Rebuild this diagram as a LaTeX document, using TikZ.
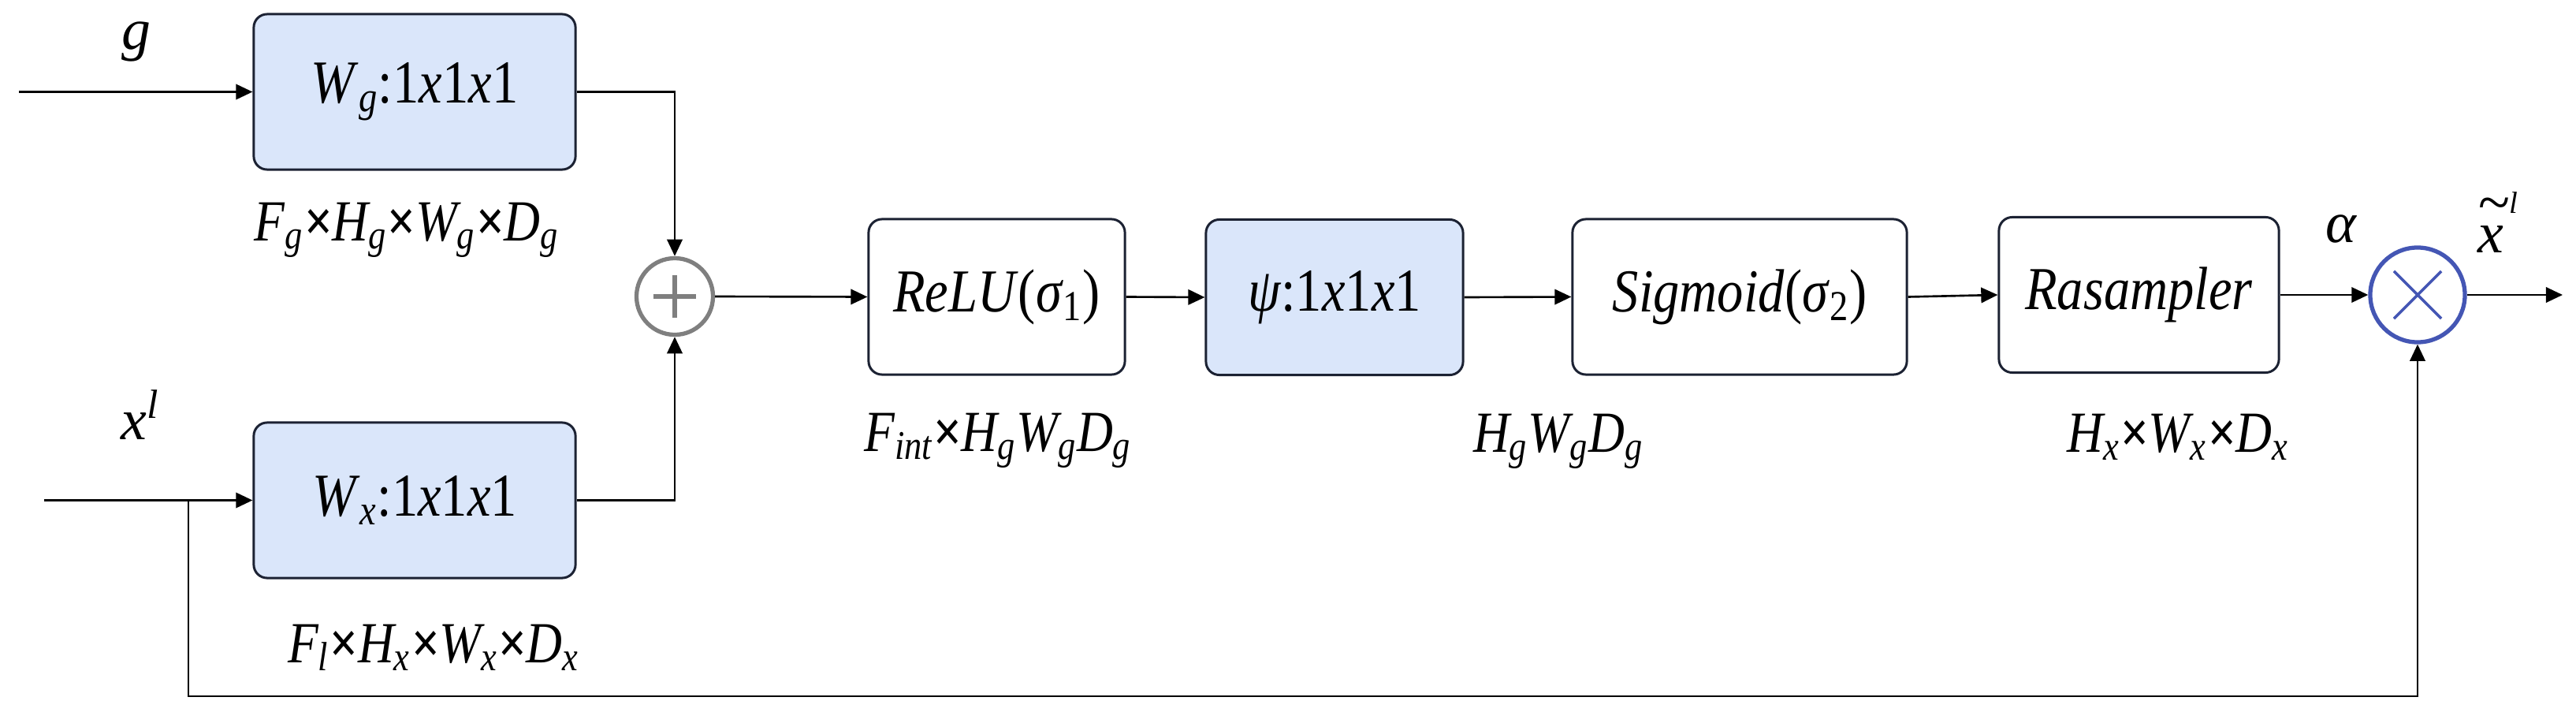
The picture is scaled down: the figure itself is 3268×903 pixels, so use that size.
\documentclass[tikz,border=0pt]{standalone}
\usepackage{fontspec}
\setmainfont{Liberation Serif}
\usepackage{graphicx}
\usetikzlibrary{arrows.meta}
\definecolor{boxfill}{HTML}{DAE6FA}
\definecolor{boxline}{HTML}{1C2233}
\definecolor{plusgray}{HTML}{7F7F7F}
\definecolor{multblue}{HTML}{4456B4}
\newcommand\Sb[1]{\textsubscript{#1}}
\newcommand\cz[1]{\scalebox{0.86}[1]{#1}}
\begin{document}
\begin{tikzpicture}[x=0.01cm,y=-0.01cm,
  blk/.style={draw=boxline, line width=0.85pt, rounded corners=0.17cm, minimum height=1.97cm, inner sep=0pt, font=\fontsize{22}{26}\selectfont},
  blu/.style={blk, fill=boxfill},
  lbl/.style={font=\fontsize{21}{25}\selectfont\itshape, inner sep=0pt, anchor=base},
  con/.style={line width=0.75pt, -{Triangle[length=6pt,width=5.5pt]}},
]
\useasboundingbox (0,0) rectangle (3268,903);

% blocks
\node[blu, minimum width=4.08cm] (wg) at (526,116.5) {\cz{\textit{W}\Sb{\textit{g}}:1\textit{x}1\textit{x}1}};
\node[blu, minimum width=4.08cm] (wx) at (526,634.5) {\cz{\textit{W}\Sb{\textit{x}}:1\textit{x}1\textit{x}1}};
\node[circle, draw=plusgray, line width=1.5pt, minimum size=0.97cm, inner sep=0pt] (plus) at (856,376) {};
\draw[plusgray, line width=1.6pt] ([xshift=-0.27cm]plus.center) -- ([xshift=0.27cm]plus.center);
\draw[plusgray, line width=1.6pt] ([yshift=-0.27cm]plus.center) -- ([yshift=0.27cm]plus.center);
\node[blk, minimum width=3.25cm] (relu) at (1264.5,376.5) {\cz{\textit{ReLU}(\textit{σ}\Sb{1})}};
\node[blu, minimum width=3.26cm] (psi) at (1693,377) {\cz{\textit{ψ}:1\textit{x}1\textit{x}1}};
\node[blk, minimum width=4.24cm] (sig) at (2207,376.5) {\cz{\textit{Sigmoid}(\textit{σ}\Sb{2})}};
\node[blk, minimum width=3.55cm] (ras) at (2713.5,374) {\cz{\textit{Rasampler}}};
\node[circle, draw=multblue, line width=1.5pt, minimum size=1.2cm, inner sep=0pt] (mul) at (3067,374) {};
\draw[multblue, line width=1pt] ([shift={(-0.3cm,-0.3cm)}]mul.center) -- ([shift={(0.3cm,0.3cm)}]mul.center);
\draw[multblue, line width=1pt] ([shift={(-0.3cm,0.3cm)}]mul.center) -- ([shift={(0.3cm,-0.3cm)}]mul.center);

% free ends
\coordinate (gin) at (24,116.5);
\coordinate (xin) at (56,634.5);
\coordinate (br) at (239,634.5);
\coordinate (bot) at (239,883);
\coordinate (out) at (3251,374);

% connectors
\draw[con] (gin) -- (wg.west);
\draw[con] (xin) -- (wx.west);
\draw[con] (wg.east) -| (plus.north);
\draw[con] (wx.east) -| (plus.south);
\draw[con] (plus.east) -- (relu.west);
\draw[con] (relu.east) -- (psi.west);
\draw[con] (psi.east) -- (sig.west);
\draw[con] (sig.east) -- (ras.west);
\draw[con] (ras.east) -- (mul.west);
\draw[con] (mul.east) -- (out);
\draw[con] (br) -- (bot) -| (mul.south);

% labels
\node[lbl] (lg) at (173,62) {g};
\node[lbl] (lx) at (178,557) {x\textsuperscript{l}};
\node[lbl] (lfg) at (516,305) {\cz{F\Sb{g}\textbf{×}H\Sb{g}\textbf{×}W\Sb{g}\textbf{×}D\Sb{g}}};
\node[lbl] (lfl) at (550,840) {\cz{F\Sb{l}\textbf{×}H\Sb{x}\textbf{×}W\Sb{x}\textbf{×}D\Sb{x}}};
\node[lbl] (lfi) at (1266,572) {\cz{F\Sb{int}\textbf{×}H\Sb{g}W\Sb{g}D\Sb{g}}};
\node[lbl] (lhg) at (1977,573) {\cz{H\Sb{g}W\Sb{g}D\Sb{g}}};
\node[lbl] (lhx) at (2763,573) {\cz{H\Sb{x}\textbf{×}W\Sb{x}\textbf{×}D\Sb{x}}};
\node[lbl] (la) at (2970,307) {α};
\node[lbl] (lxt) at (3160,320) {\rlap{\raisebox{11pt}{\textasciitilde}\raisebox{14pt}{\fontsize{11}{11}\selectfont l}}x};
\end{tikzpicture}
\end{document}
